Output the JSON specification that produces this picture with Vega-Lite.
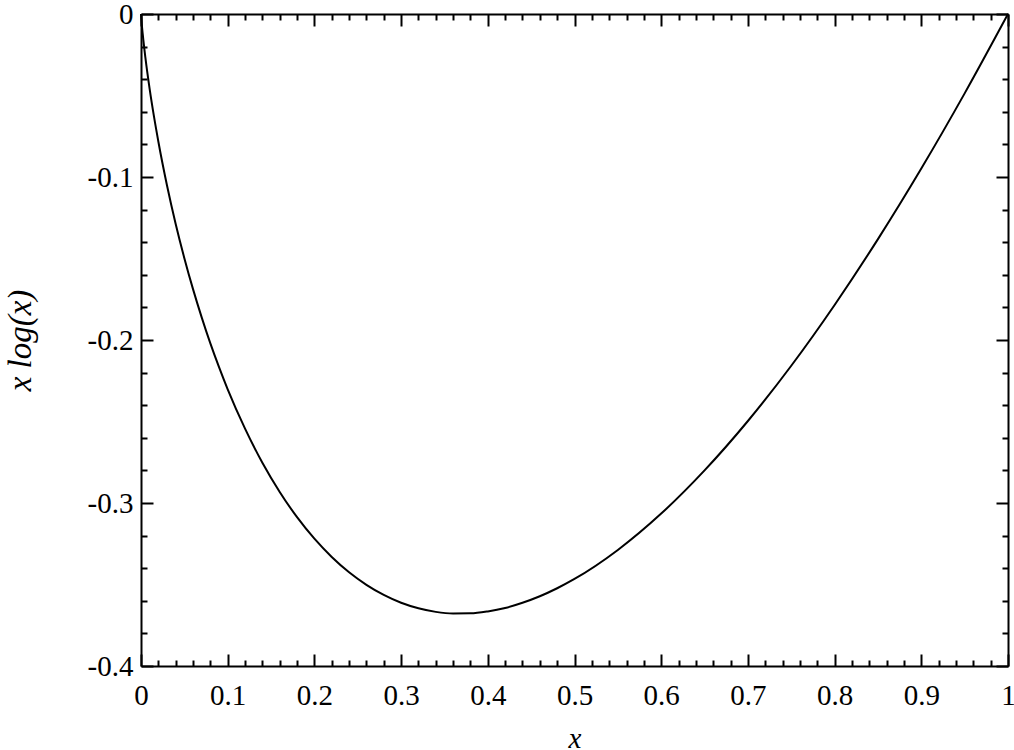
{
  "$schema": "https://vega.github.io/schema/vega-lite/v6.json",
  "width": 867,
  "height": 652,
  "autosize": "none",
  "padding": {"left": 141, "top": 14, "right": 6, "bottom": 84},
  "background": "white",
  "config": {
    "view": {"stroke": null},
    "font": "Liberation Serif",
    "axis": {"grid": false, "domainColor": "black", "tickColor": "black", "labelColor": "black", "titleColor": "black", "domainWidth": 2, "tickWidth": 2, "labelFont": "Liberation Serif", "titleFont": "Liberation Serif", "labelFontSize": 29, "titleFontSize": 29, "titleFontWeight": "normal", "titleFontStyle": "italic", "zindex": 1}
  },
  "data": {"values": [
    {"x": 0, "y": 0},
    {"x": 0.001, "y": -0.0069},
    {"x": 0.002, "y": -0.0124},
    {"x": 0.005, "y": -0.0265},
    {"x": 0.01, "y": -0.0461},
    {"x": 0.015, "y": -0.063},
    {"x": 0.02, "y": -0.0782},
    {"x": 0.03, "y": -0.1052},
    {"x": 0.04, "y": -0.1288},
    {"x": 0.05, "y": -0.1498},
    {"x": 0.06, "y": -0.1688},
    {"x": 0.07, "y": -0.1861},
    {"x": 0.08, "y": -0.2021},
    {"x": 0.09, "y": -0.2167},
    {"x": 0.10, "y": -0.2303},
    {"x": 0.12, "y": -0.2544},
    {"x": 0.14, "y": -0.2753},
    {"x": 0.16, "y": -0.2932},
    {"x": 0.18, "y": -0.3087},
    {"x": 0.20, "y": -0.3219},
    {"x": 0.22, "y": -0.3331},
    {"x": 0.24, "y": -0.3425},
    {"x": 0.26, "y": -0.3502},
    {"x": 0.28, "y": -0.3564},
    {"x": 0.30, "y": -0.3612},
    {"x": 0.32, "y": -0.3646},
    {"x": 0.34, "y": -0.3668},
    {"x": 0.36, "y": -0.3678},
    {"x": 0.38, "y": -0.3677},
    {"x": 0.40, "y": -0.3665},
    {"x": 0.42, "y": -0.3644},
    {"x": 0.44, "y": -0.3612},
    {"x": 0.46, "y": -0.3572},
    {"x": 0.48, "y": -0.3523},
    {"x": 0.50, "y": -0.3466},
    {"x": 0.55, "y": -0.3288},
    {"x": 0.60, "y": -0.3065},
    {"x": 0.65, "y": -0.2800},
    {"x": 0.70, "y": -0.2497},
    {"x": 0.75, "y": -0.2158},
    {"x": 0.80, "y": -0.1785},
    {"x": 0.85, "y": -0.1381},
    {"x": 0.90, "y": -0.0948},
    {"x": 0.95, "y": -0.0487},
    {"x": 1.00, "y": 0}
  ]},
  "resolve": {"axis": {"x": "independent", "y": "independent"}},
  "layer": [
    {
      "mark": {"type": "line", "color": "black", "strokeWidth": 2, "interpolate": "monotone"},
      "encoding": {
        "x": {"field": "x", "type": "quantitative", "scale": {"domain": [0, 1], "nice": false, "zero": false},
          "axis": {"orient": "bottom", "title": "x", "values": [0, 0.1, 0.2, 0.3, 0.4, 0.5, 0.6, 0.7, 0.8, 0.9, 1], "tickSize": -12, "labelPadding": 27, "labelExpr": "'' + datum.value", "titlePadding": 14, "labelFlush": false, "labelOverlap": false}},
        "y": {"field": "y", "type": "quantitative", "scale": {"domain": [-0.4, 0], "nice": false, "zero": false},
          "axis": {"orient": "left", "title": "x log(x)", "titleFontSize": 33, "values": [-0.4, -0.3, -0.2, -0.1, 0], "tickSize": -12, "labelPadding": 20, "labelExpr": "'' + datum.value", "titlePadding": 50, "labelFlush": false, "labelOverlap": false}}
      }
    },
    {
      "mark": {"type": "line", "strokeOpacity": 0},
      "encoding": {
        "x": {"field": "x", "type": "quantitative", "axis": {"orient": "top", "title": null, "labels": false, "values": [0, 0.1, 0.2, 0.3, 0.4, 0.5, 0.6, 0.7, 0.8, 0.9, 1], "tickSize": -12}},
        "y": {"field": "y", "type": "quantitative", "axis": {"orient": "right", "title": null, "labels": false, "values": [-0.4, -0.3, -0.2, -0.1, 0], "tickSize": -12}}
      }
    },
    {
      "mark": {"type": "line", "strokeOpacity": 0},
      "encoding": {
        "x": {"field": "x", "type": "quantitative", "axis": {"orient": "bottom", "title": null, "labels": false, "domain": false, "values": [0.02, 0.04, 0.06, 0.08, 0.12, 0.14, 0.16, 0.18, 0.22, 0.24, 0.26, 0.28, 0.32, 0.34, 0.36, 0.38, 0.42, 0.44, 0.46, 0.48, 0.52, 0.54, 0.56, 0.58, 0.62, 0.64, 0.66, 0.68, 0.72, 0.74, 0.76, 0.78, 0.82, 0.84, 0.86, 0.88, 0.92, 0.94, 0.96, 0.98], "tickSize": -6}},
        "y": {"field": "y", "type": "quantitative", "axis": {"orient": "left", "title": null, "labels": false, "domain": false, "values": [-0.38, -0.36, -0.34, -0.32, -0.28, -0.26, -0.24, -0.22, -0.18, -0.16, -0.14, -0.12, -0.08, -0.06, -0.04, -0.02], "tickSize": -6}}
      }
    },
    {
      "mark": {"type": "line", "strokeOpacity": 0},
      "encoding": {
        "x": {"field": "x", "type": "quantitative", "axis": {"orient": "top", "title": null, "labels": false, "domain": false, "values": [0.02, 0.04, 0.06, 0.08, 0.12, 0.14, 0.16, 0.18, 0.22, 0.24, 0.26, 0.28, 0.32, 0.34, 0.36, 0.38, 0.42, 0.44, 0.46, 0.48, 0.52, 0.54, 0.56, 0.58, 0.62, 0.64, 0.66, 0.68, 0.72, 0.74, 0.76, 0.78, 0.82, 0.84, 0.86, 0.88, 0.92, 0.94, 0.96, 0.98], "tickSize": -6}},
        "y": {"field": "y", "type": "quantitative", "axis": {"orient": "right", "title": null, "labels": false, "domain": false, "values": [-0.38, -0.36, -0.34, -0.32, -0.28, -0.26, -0.24, -0.22, -0.18, -0.16, -0.14, -0.12, -0.08, -0.06, -0.04, -0.02], "tickSize": -6}}
      }
    }
  ]
}
